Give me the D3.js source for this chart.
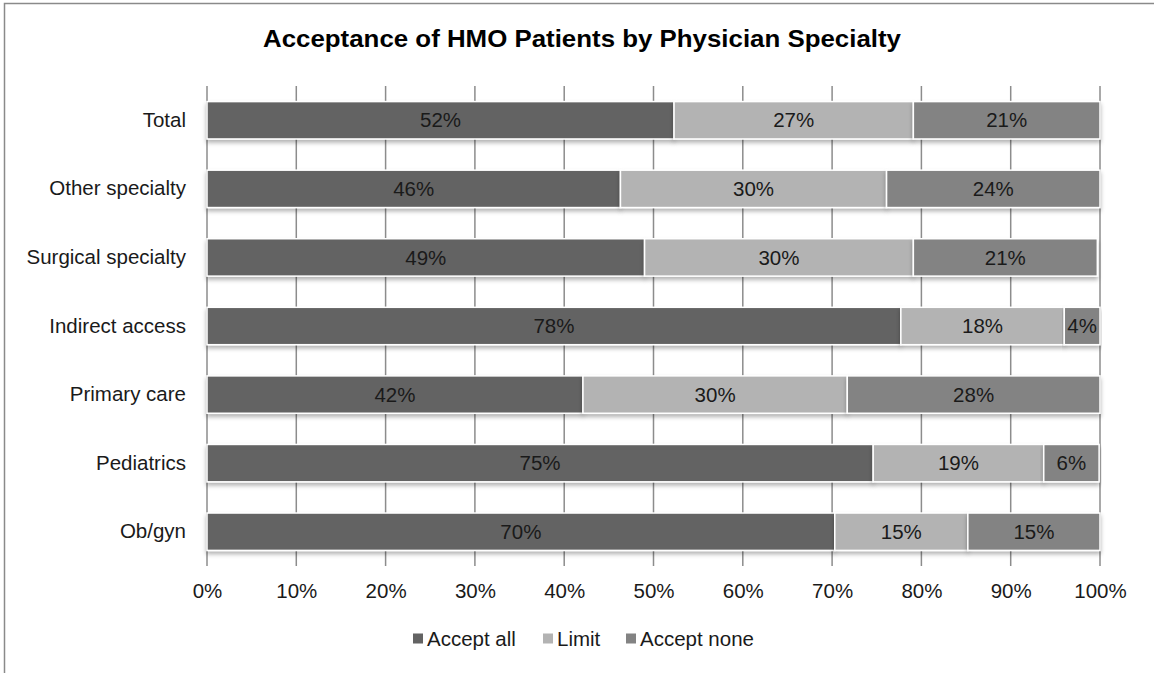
<!DOCTYPE html>
<html>
<head>
<meta charset="utf-8">
<script src="https://cdn.jsdelivr.net/npm/d3@7"></script>
<style>
  body { margin: 0; background: #fff; }
  text { font-family: Arial, "Liberation Sans", sans-serif; }
</style>
</head>
<body>
<script>
// values (percent of physicians)
const categories = ["Total", "Other specialty", "Surgical specialty", "Indirect access", "Primary care", "Pediatrics", "Ob/gyn"];
const seriesNames = ["Accept all", "Limit", "Accept none"];
const acceptAll = [52.3, 46.3, 49.0, 77.7, 42.1, 74.6, 70.3];
const limit = [26.8, 29.8, 30.1, 18.3, 29.6, 19.1, 14.9];
const acceptNone = [20.9, 23.9, 20.6, 4.0, 28.3, 6.2, 14.8];
const tickValues = [0, 10, 20, 30, 40, 50, 60, 70, 80, 90, 100];
const colors = ["#636363", "#b3b3b3", "#838383"];

const width = 1154, height = 673;
const margin = {top: 86, right: 54, bottom: 107, left: 207};
const fontSize = "20.5px";

const rows = categories.map((c, i) => ({
  category: c,
  "Accept all": acceptAll[i],
  "Limit": limit[i],
  "Accept none": acceptNone[i]
}));
const stacked = d3.stack().keys(seriesNames)(rows);

const svg = d3.select("body").append("svg")
  .attr("width", width)
  .attr("height", height);

// chart frame (runs past the viewport on the right and bottom)
svg.append("rect")
  .attr("x", 4.5).attr("y", 3.5)
  .attr("width", width + 20).attr("height", height + 20)
  .attr("fill", "#fff")
  .attr("stroke", "#8a8a8a")
  .attr("stroke-width", 1.5);

const defs = svg.append("defs");
const shadow = defs.append("filter").attr("id", "shadow")
  .attr("x", "-5%").attr("y", "-20%").attr("width", "110%").attr("height", "160%");
shadow.append("feDropShadow")
  .attr("dx", 0).attr("dy", 3).attr("stdDeviation", 2)
  .attr("flood-color", "#000").attr("flood-opacity", 0.3);

const x = d3.scaleLinear().domain([0, 100]).range([margin.left, width - margin.right]);
const y = d3.scaleBand().domain(categories)
  .range([margin.top, height - margin.bottom])
  .paddingInner(0.455).paddingOuter(0.2275);

svg.append("text")
  .attr("x", 582).attr("y", 47)
  .attr("text-anchor", "middle")
  .attr("font-size", "24px")
  .attr("font-weight", "bold")
  .attr("fill", "#000")
  .attr("textLength", 638)
  .attr("lengthAdjust", "spacingAndGlyphs")
  .text("Acceptance of HMO Patients by Physician Specialty");

// vertical gridlines
svg.append("g")
  .selectAll("line")
  .data(tickValues)
  .join("line")
  .attr("x1", d => x(d)).attr("x2", d => x(d))
  .attr("y1", margin.top).attr("y2", height - margin.bottom)
  .attr("stroke", "#8c8c8c")
  .attr("stroke-width", 1.5);

// stacked bars
const layers = svg.append("g").selectAll("g")
  .data(stacked)
  .join("g")
  .attr("fill", (d, i) => colors[i]);

layers.selectAll("rect")
  .data(d => d)
  .join("rect")
  .attr("x", d => x(d[0]))
  .attr("y", d => y(d.data.category))
  .attr("width", d => x(d[1]) - x(d[0]))
  .attr("height", y.bandwidth())
  .attr("stroke", "#fff")
  .attr("stroke-width", 1.5)
  .attr("filter", "url(#shadow)");

// data labels
const fmt = d3.format(".0f");
layers.selectAll("text")
  .data(d => d)
  .join("text")
  .attr("x", d => (x(d[0]) + x(d[1])) / 2)
  .attr("y", d => y(d.data.category) + y.bandwidth() / 2)
  .attr("dy", "0.35em")
  .attr("text-anchor", "middle")
  .attr("font-size", fontSize)
  .attr("fill", "#1a1a1a")
  .text(d => fmt(d[1] - d[0]) + "%");

// category axis
const yAxis = svg.append("g")
  .attr("transform", `translate(${margin.left},0)`)
  .call(d3.axisLeft(y).tickSize(0).tickPadding(21));
yAxis.select(".domain").remove();
yAxis.selectAll("text")
  .attr("font-size", fontSize)
  .attr("fill", "#1a1a1a")
  .style("font-family", "Arial, 'Liberation Sans', sans-serif");

// value axis
const xAxis = svg.append("g")
  .attr("transform", `translate(0,${height - margin.bottom})`)
  .call(d3.axisBottom(x).tickValues(tickValues).tickSize(0).tickPadding(17)
    .tickFormat(d => d + "%"));
xAxis.select(".domain").remove();
xAxis.selectAll("text")
  .attr("font-size", fontSize)
  .attr("fill", "#1a1a1a")
  .style("font-family", "Arial, 'Liberation Sans', sans-serif");

// legend
const legendX = [413, 543, 626];
const legend = svg.append("g").selectAll("g")
  .data(seriesNames)
  .join("g")
  .attr("transform", (d, i) => `translate(${legendX[i]},639)`);
legend.append("rect")
  .attr("x", 0).attr("y", -5.5)
  .attr("width", 10).attr("height", 10)
  .attr("fill", (d, i) => colors[i]);
legend.append("text")
  .attr("x", 14)
  .attr("dy", "0.35em")
  .attr("font-size", fontSize)
  .attr("fill", "#1a1a1a")
  .text(d => d);
</script>
</body>
</html>
